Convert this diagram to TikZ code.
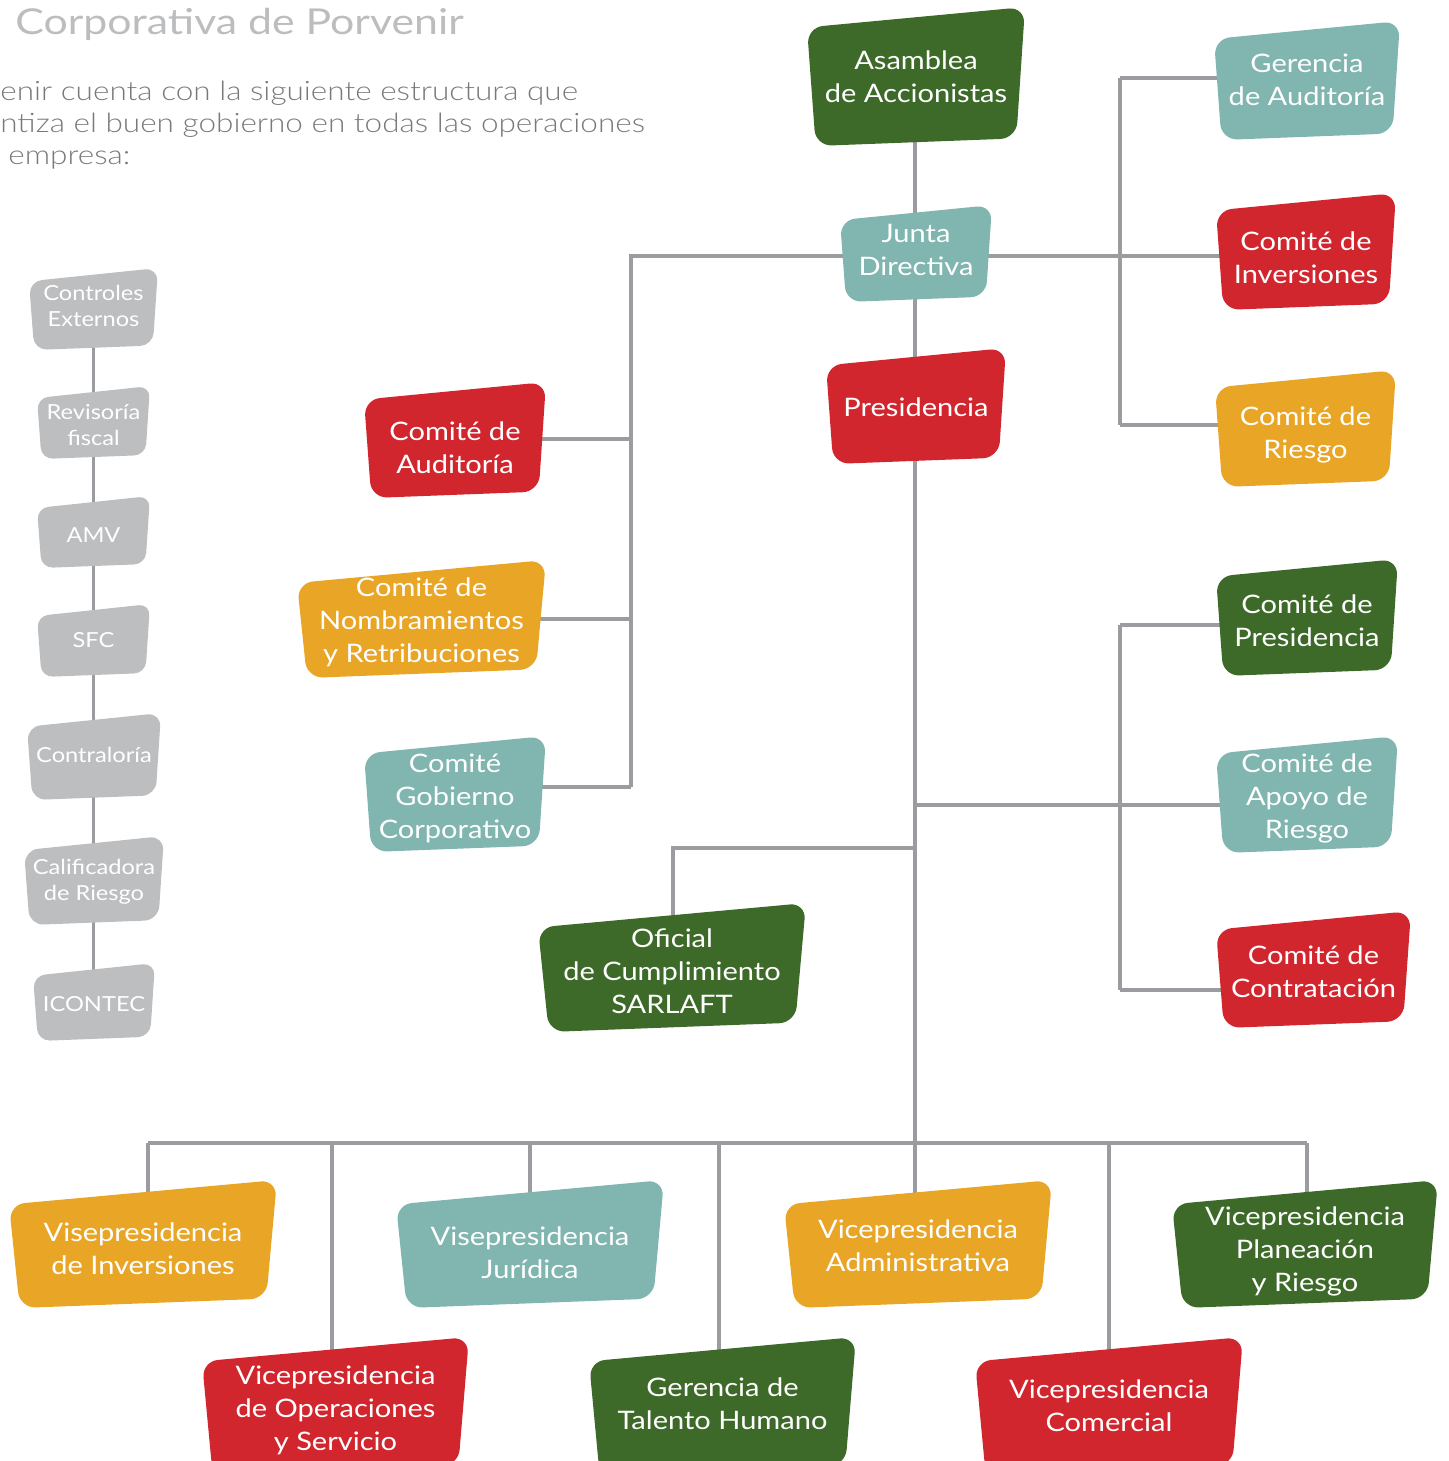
\documentclass[tikz,border=0pt]{standalone}
\usepackage{fontspec}
\setmainfont{Lato}[FakeStretch=1.14]
\newfontfamily\fina{Lato Light}[FakeStretch=1.18]
\newfontfamily\ancha{Lato}[FakeStretch=1.2]
\usetikzlibrary{calc}

\definecolor{verdeP}{RGB}{61,106,41}
\definecolor{rojoP}{RGB}{210,38,47}
\definecolor{naranjaP}{RGB}{233,165,38}
\definecolor{turquesaP}{RGB}{128,182,175}
\definecolor{grisCaja}{RGB}{189,190,192}
\definecolor{grisLinea}{RGB}{155,156,160}
\definecolor{grisTitulo}{RGB}{188,189,191}
\definecolor{grisTexto}{RGB}{120,121,124}

\pgfdeclarelayer{fondo}
\pgfsetlayers{fondo,main}

\tikzset{
  conector/.style={draw=grisLinea, line width=2pt},
  texto caja/.style={text=white, align=center, inner sep=0pt,
    font=\fontsize{14.5}{18.8}\selectfont},
}

% caja inclinada: nombre, color, x0, y0, x1, y1, y del texto, texto
\newcommand{\caja}[8]{%
  \pgfmathsetmacro\ancho{#5-#3}
  \pgfmathsetmacro\radio{min(16,0.1*\ancho)*0.02}
  \fill[#2, rounded corners=\radio cm]
    ({#3},{#4+0.08*\ancho+3}) -- ({#5},{#4})
    -- ({#5-0.04*\ancho},{#6-0.035*\ancho}) -- ({#3+0.04*\ancho},{#6}) -- cycle;
  \node[texto caja] (#1) at ({(#3+#5)/2},{#7}) {#8};
}

\begin{document}
\begin{tikzpicture}[x=0.02cm, y=-0.02cm]
  \useasboundingbox (0,0) rectangle (1448,1461);
  \clip (0,0) rectangle (1448,1461);

  \node[anchor=base west, inner sep=0, text=grisTitulo,
    font=\ancha\fontsize{20.3}{24}\selectfont] (titulo) at (15,34) {Corporativa de Porvenir};
  \node[anchor=base west, inner sep=0, text=grisTexto,
    font=\fina\fontsize{15.2}{18}\selectfont] (intro1) at (0,100) {enir cuenta con la siguiente estructura que};
  \node[anchor=base west, inner sep=0, text=grisTexto,
    font=\fina\fontsize{15.2}{18}\selectfont] (intro2) at (0,132) {ntiza el buen gobierno en todas las operaciones};
  \node[anchor=base west, inner sep=0, text=grisTexto,
    font=\fina\fontsize{15.2}{18}\selectfont] (intro3) at (8,164) {empresa:};

  % controles externos
  \begin{scope}[texto caja/.append style={font=\fontsize{11.8}{14.8}\selectfont}]
    \caja{ctrlExt}{grisCaja}{29}{268}{158}{350}{306}{Controles\\Externos}
    \caja{revFiscal}{grisCaja}{37}{386}{150}{459}{425}{Revisoría\\fiscal}
    \caja{amv}{grisCaja}{37}{496}{150}{568}{535}{AMV}
    \caja{sfc}{grisCaja}{37}{604}{150}{677}{640}{SFC}
    \caja{contraloria}{grisCaja}{27}{713}{161}{800}{755}{Contraloría}
    \caja{calificadora}{grisCaja}{24}{836}{164}{925}{882}{Calificadora\\de Riesgo}
    \caja{icontec}{grisCaja}{33}{963}{155}{1041}{1004}{ICONTEC}
  \end{scope}

  % eje central
  \caja{asamblea}{verdeP}{807}{7}{1025}{146}{77}{Asamblea\\de Accionistas}
  \caja{junta}{turquesaP}{840}{205}{992}{302}{250}{Junta\\Directiva}
  \caja{presidencia}{rojoP}{826}{348}{1006}{464}{407}{Presidencia}

  % comites de la junta
  \caja{gerAud}{turquesaP}{1214}{21}{1400}{140}{80}{Gerencia\\de Auditoría}
  \caja{cInv}{rojoP}{1216}{193}{1396}{310}{258}{Comité de\\Inversiones}
  \caja{cRiesgo}{naranjaP}{1215}{370}{1396}{487}{435}{Comité de\\Riesgo}
  \caja{cAud}{rojoP}{364}{382}{546}{498}{448}{Comité de\\Auditoría}
  \caja{cNom}{naranjaP}{297}{560}{546}{678}{622}{Comité de\\Nombramientos\\y Retribuciones}
  \caja{cGob}{turquesaP}{364}{736}{546}{852}{798}{Comité\\Gobierno\\Corporativo}

  % comites de presidencia
  \caja{cPres}{verdeP}{1216}{559}{1398}{676}{621}{Comité de\\Presidencia}
  \caja{cApoyo}{turquesaP}{1216}{736}{1398}{853}{798}{Comité de\\Apoyo de\\Riesgo}
  \caja{cContr}{rojoP}{1216}{911}{1411}{1028}{972}{Comité de\\Contratación}
  \caja{oficial}{verdeP}{538}{903}{806}{1032}{971}{Oficial\\de Cumplimiento\\SARLAFT}

  % vicepresidencias
  \caja{vInv}{naranjaP}{9}{1180}{277}{1308}{1249}{Visepresidencia\\de Inversiones}
  \caja{vJur}{turquesaP}{396}{1180}{664}{1308}{1253}{Visepresidencia\\Jurídica}
  \caja{vAdm}{naranjaP}{784}{1180}{1052}{1308}{1246}{Vicepresidencia\\Administrativa}
  \caja{vPlan}{verdeP}{1172}{1180}{1438}{1308}{1251}{Vicepresidencia\\Planeación\\y Riesgo}
  \caja{vOper}{rojoP}{202}{1337}{469}{1475}{1410}{Vicepresidencia\\de Operaciones\\y Servicio}
  \caja{gTal}{verdeP}{589}{1337}{856}{1475}{1404}{Gerencia de\\Talento Humano}
  \caja{vCom}{rojoP}{975}{1337}{1243}{1475}{1406}{Vicepresidencia\\Comercial}

  \begin{pgfonlayer}{fondo}
    \draw[conector] (ctrlExt.center) -- (ctrlExt.center |- icontec.center);
    \draw[conector] (915,0 |- asamblea.center) -- (915,0 |- vAdm.center);

    \coordinate (jIzq) at (631,256);
    \coordinate (ramaGob) at (631,787);
    \draw[conector] (ramaGob) -- (jIzq) -- (jIzq -| cInv.center);
    \foreach \y/\n in {439/cAud, 619/cNom, 787/cGob}
      \draw[conector] (631,\y) -- (\n.center |- 0,\y);

    \draw[conector] (1120,78) -- (1120,425);
    \foreach \y/\n in {78/gerAud, 425/cRiesgo}
      \draw[conector] (1120,\y) -- (\n.center |- 0,\y);

    \draw[conector] (915,805) -- (cApoyo.center |- 0,805);
    \draw[conector] (1120,625) -- (1120,990);
    \foreach \y/\n in {625/cPres, 990/cContr}
      \draw[conector] (1120,\y) -- (\n.center |- 0,\y);

    \draw[conector] (915,848) -| (673,0 |- oficial.center);

    \coordinate (busIzq) at (148,1143);
    \coordinate (busDer) at (1307,1143);
    \draw[conector] (busIzq) -- (busDer);
    \foreach \x/\n in {148/vInv, 332/vOper, 530/vJur, 719/gTal, 1109/vCom, 1307/vPlan}
      \draw[conector] (\x,1143) -- (\x,0 |- \n.center);
  \end{pgfonlayer}
\end{tikzpicture}
\end{document}
